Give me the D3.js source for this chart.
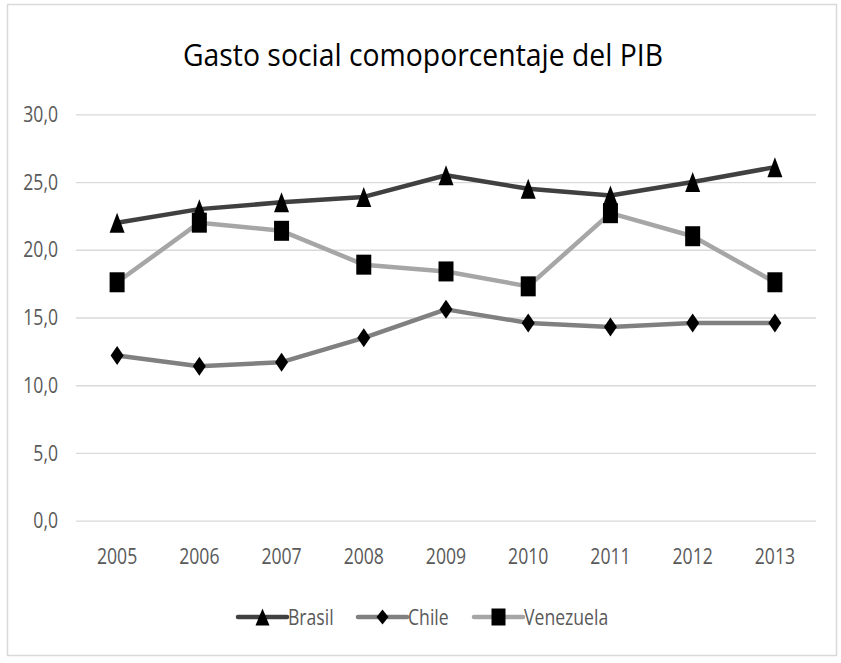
<!DOCTYPE html>
<html><head><meta charset="utf-8">
<script src="https://cdn.jsdelivr.net/npm/d3@7"></script>
<style>
body{margin:0;background:#fff;}
text{font-family:"Open Sans",sans-serif;}
</style></head>
<body><svg id="c" width="841" height="663"></svg>
<script>
const years = ["2005","2006","2007","2008","2009","2010","2011","2012","2013"];
const brasil = [22.0,23.0,23.5,23.9,25.5,24.5,24.0,25.0,26.1];
const chile = [12.2,11.4,11.7,13.5,15.6,14.6,14.3,14.6,14.6];
const venezuela = [17.6,22.0,21.4,18.9,18.4,17.3,22.7,21.0,17.6];
const yTicks = [0,5,10,15,20,25,30];
const title = "Gasto social comoporcentaje del PIB";

const series = [
  {name:"Brasil", values:brasil, color:"#404040", marker:"triangle"},
  {name:"Chile", values:chile, color:"#808080", marker:"diamond"},
  {name:"Venezuela", values:venezuela, color:"#a6a6a6", marker:"square"}
];

function shape(type, w, h){
  const a=w/2, b=h/2;
  if(type==="triangle") return `M0,${-b}L${a},${b}L${-a},${b}Z`;
  if(type==="diamond") return `M0,${-b}L${a},0L0,${b}L${-a},0Z`;
  return `M${-a},${-b}H${a}V${b}H${-a}Z`;
}
const markerSize = {triangle:[15,20], diamond:[13,19], square:[15,20]};
const legendSize = {triangle:[14,17], diamond:[12,15], square:[14,17]};

const svg = d3.select("#c");
svg.append("rect").attr("x",7.5).attr("y",4.5).attr("width",829).attr("height",651)
  .attr("fill","#fff").attr("stroke","#d9d9d9").attr("stroke-width",1.5);

const x = d3.scaleBand().domain(years).range([76,816]);
const y = d3.scaleLinear().domain([0,30]).range([520.7,114.3]);
const fmt = v => d3.format(".1f")(v).replace(".",",");

function narrow(sel, f){
  sel.each(function(){
    const w = this.getComputedTextLength();
    d3.select(this).attr("textLength", w*f).attr("lengthAdjust","spacingAndGlyphs");
  });
}

svg.append("text").attr("x",423).attr("y",66).attr("text-anchor","middle")
  .attr("font-size",31).attr("fill","#000").attr("textLength",480).attr("lengthAdjust","spacingAndGlyphs").text(title);

const yAxis = d3.axisLeft(y).tickValues(yTicks).tickFormat(fmt).tickSize(-740).tickPadding(18);
const ga = svg.append("g").attr("transform","translate(76,0)").call(yAxis);
ga.select(".domain").remove();
ga.selectAll(".tick line").attr("stroke","#d9d9d9").attr("stroke-width",1.3);
ga.selectAll(".tick text").attr("font-size",22).attr("fill","#595959").call(narrow,0.8);

const xAxis = d3.axisBottom(x).tickSize(0).tickPadding(28);
const gx = svg.append("g").attr("transform","translate(0,520.7)").call(xAxis);
gx.select(".domain").remove();
gx.selectAll(".tick text").attr("font-size",22).attr("fill","#595959").call(narrow,0.8);

const line = d3.line().x((d,i)=>x(years[i])+x.bandwidth()/2).y(d=>y(d));

series.forEach(s=>{
  svg.append("path").datum(s.values).attr("d",line).attr("fill","none")
    .attr("stroke",s.color).attr("stroke-width",4.5).attr("stroke-linejoin","round").attr("stroke-linecap","round");
});
series.forEach(s=>{
  const [w,h] = markerSize[s.marker];
  svg.append("g").selectAll("path").data(s.values).join("path")
    .attr("transform",(d,i)=>`translate(${x(years[i])+x.bandwidth()/2},${y(d)})`)
    .attr("d",shape(s.marker,w,h)).attr("fill","#000");
});

const legX = [238,358,474];
series.forEach((s,i)=>{
  const g = svg.append("g").attr("transform",`translate(${legX[i]},617)`);
  g.append("line").attr("x1",0).attr("x2",49).attr("stroke",s.color).attr("stroke-width",4.5).attr("stroke-linecap","round");
  const [w,h] = legendSize[s.marker];
  g.append("path").attr("transform","translate(24.5,0)").attr("d",shape(s.marker,w,h)).attr("fill","#000");
  g.append("text").attr("x",50).attr("y",0).attr("dy","0.36em").attr("font-size",22).attr("fill","#595959").text(s.name).call(narrow,0.8);
});
</script></body></html>
